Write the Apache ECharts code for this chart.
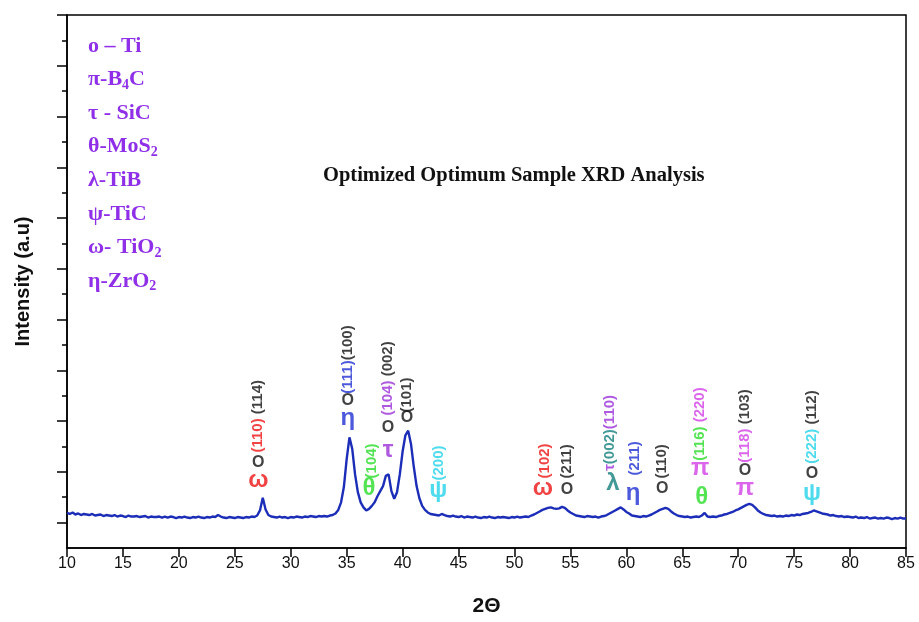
<!DOCTYPE html>
<html>
<head>
<meta charset="utf-8">
<script src="https://cdn.jsdelivr.net/npm/echarts@6/dist/echarts.min.js"></script>
<style>
  html, body { margin: 0; padding: 0; background: #fff; }
  #chart { width: 919px; height: 622px; }
</style>
</head>
<body>
<div id="chart"></div>
<script>
// 2θ sampling grid of the pattern
const thetaStart = 10
const thetaStep = 0.25

// intensity, one row per degree (x.00, x.25, x.50, x.75)
const intensity = [
  19, 17, 20, 16,
  18, 15, 17, 16,
  15, 17, 14, 15,
  16, 13, 15, 14,
  13, 15, 12, 14,
  13, 11, 14, 12,
  12, 13, 11, 12,
  13, 10, 12, 11,
  11, 12, 10, 12,
  10, 12, 11, 9,
  11, 10, 12, 10,
  9, 11, 10, 12,
  10, 9, 11, 10,
  12, 11, 15, 12,
  10, 9, 11, 10,
  9, 11, 10, 9,
  11, 10, 12, 11,
  14, 24, 49, 26,
  15, 12, 11, 10,
  12, 10, 11, 9,
  11, 10, 12, 11,
  10, 12, 11, 13,
  12, 11, 13, 12,
  13, 12, 14, 15,
  18, 25, 40, 70,
  125, 168, 145, 95,
  60, 40, 30, 24,
  27, 33, 40, 52,
  62, 72, 92, 95,
  62, 47, 60, 95,
  140, 172, 181, 155,
  110, 72, 48, 33,
  25, 20, 17, 16,
  15, 14, 17, 15,
  13, 12, 14, 12,
  11, 13, 10, 12,
  11, 10, 12, 10,
  9, 11, 10, 12,
  10, 9, 11, 10,
  11, 10, 9, 11,
  10, 12, 10, 11,
  12, 11, 14, 16,
  19, 22, 25, 27,
  29, 30, 28, 27,
  28, 31, 29, 24,
  20, 17, 14, 13,
  12, 11, 13, 12,
  11, 12, 10, 12,
  13, 15, 18, 21,
  24, 27, 30, 26,
  21, 18, 14, 13,
  12, 11, 13, 12,
  14, 16, 19, 22,
  25, 27, 29, 27,
  22, 18, 15, 13,
  12, 11, 12, 10,
  11, 12, 11, 14,
  19, 12, 11, 12,
  11, 13, 14, 16,
  17, 19, 21, 24,
  26, 29, 32, 35,
  37, 35, 30, 24,
  20, 17, 15, 14,
  13, 14, 12, 13,
  12, 14, 13, 15,
  14, 16, 15, 17,
  18, 19, 21, 24,
  22, 20, 18, 17,
  16, 14, 15, 13,
  12, 13, 11, 12,
  11, 10, 12, 9,
  10, 9, 11, 8,
  9, 10, 8, 9,
  8, 10, 9, 7,
  9, 8, 10, 8,
  8
]

const yMajor = [0, 100, 200, 300, 400, 500, 600, 700, 800, 900, 1000]
const yMinor = [50, 150, 250, 350, 450, 550, 650, 750, 850, 950]

// phase key list (legend)
const legendLines = [
  'o – Ti',
  'π-B{sub|4}C',
  'τ - SiC',
  'θ-MoS{sub|2}',
  'λ-TiB',
  'ψ-TiC',
  'ω- TiO{sub|2}',
  'η-ZrO{sub|2}'
]

// upright phase symbols over the peaks: [2θ, intensity, glyph, phase]
const peakGlyphs = [
  [27.1, 83, 'ω', 'tio2'], [27.1, 118, 'O', 'ti'],
  [35.1, 205, 'η', 'zro2'], [35.1, 240, 'O', 'ti'],
  [37.0, 67, 'θ', 'mos2'],
  [38.7, 142, 'τ', 'sic'], [38.7, 187, 'O', 'ti'],
  [40.4, 207, 'O', 'ti'],
  [43.2, 63, 'ψ', 'tic'],
  [52.55, 67, 'ω', 'tio2'],
  [54.7, 65, 'O', 'ti'],
  [58.8, 77, 'λ', 'tib'],
  [60.6, 57, 'η', 'zro2'],
  [63.2, 67, 'O', 'ti'],
  [66.75, 49, 'θ', 'mos2'], [66.6, 106, 'π', 'b4c'],
  [70.6, 67, 'π', 'b4c'], [70.6, 102, 'O', 'ti'],
  [76.6, 57, 'ψ', 'tic'], [76.6, 97, 'O', 'ti']
]

// vertical (hkl) labels, bottom anchored: [2θ, intensity, [[text, phase], ...]]
const peakPlanes = [
  [27.1, 138, [['(110)', 'tio2'], [' (114)', 'ti']]],
  [35.1, 254, [['(111)', 'zro2'], ['(100)', 'ti']]],
  [37.25, 87, [['(104)', 'mos2']]],
  [38.7, 211, [['(104)', 'sic'], [' (002)', 'ti']]],
  [40.4, 217, [['(101)', 'ti']]],
  [43.2, 83, [['(200)', 'tic']]],
  [52.75, 87, [['(102)', 'tio2']]],
  [54.7, 87, [['(211)', 'ti']]],
  [58.55, 102, [['τ', 'sic'], ['(002)', 'tib'], ['(110)', 'sic']]],
  [60.8, 93, [['(211)', 'zro2']]],
  [63.2, 87, [['(110)', 'ti']]],
  [66.6, 122, [['(116)', 'mos2'], [' (220)', 'b4c']]],
  [70.6, 118, [['(118)', 'b4c'], [' (103)', 'ti']]],
  [76.6, 116, [['(222)', 'tic'], [' (112)', 'ti']]]
]

const phaseColor = {
  ti: '#111111',
  b4c: '#d23ee6',
  sic: '#9a30d8',
  mos2: '#28dc28',
  tib: '#13807c',
  tic: '#20d2e8',
  tio2: '#ee1414',
  zro2: '#1f30d2'
}

const pattern = intensity.map((v, i) => [thetaStart + i * thetaStep, v])

const planeRich = {}
Object.keys(phaseColor).forEach(k => {
  planeRich[k] = {
    color: phaseColor[k],
    fontSize: 15,
    fontWeight: 'bold',
    fontFamily: 'Liberation Sans'
  }
})

const chart = echarts.init(document.getElementById('chart'))

const yAxisBase = {
  type: 'value',
  min: -50,
  max: 1000,
  splitLine: { show: false },
  axisLabel: { show: false }
}

chart.setOption({
  backgroundColor: '#fff',
  animation: false,
  textStyle: { fontFamily: 'Liberation Sans' },
  grid: {
    left: 67,
    right: 13,
    top: 15,
    bottom: 74,
    show: true,
    borderColor: '#000',
    borderWidth: 1.5
  },
  graphic: [
    {
      type: 'text',
      left: 323,
      top: 165,
      style: {
        text: 'Optimized Optimum Sample XRD Analysis',
        font: 'bold 20.5px "Liberation Serif"',
        fill: '#111'
      }
    },
    ...legendLines.map((t, i) => ({
      type: 'text',
      left: 88,
      top: 35 + i * 33.6,
      style: {
        text: t,
        font: 'bold 22px "Liberation Serif"',
        fill: '#8f2fe8',
        rich: {
          sub: {
            font: 'bold 14px "Liberation Serif"',
            fill: '#8f2fe8',
            padding: [11, 0, 0, 0]
          }
        }
      }
    }))
  ],
  xAxis: {
    type: 'value',
    min: 10,
    max: 85,
    interval: 5,
    name: '2Θ',
    nameLocation: 'middle',
    nameGap: 48,
    nameTextStyle: { fontSize: 21, fontWeight: 'bold', color: '#111' },
    axisLine: { onZero: false, lineStyle: { color: '#000', width: 1.5 } },
    axisTick: { inside: false, length: 9, lineStyle: { color: '#000', width: 1.5 } },
    axisLabel: { fontSize: 16, color: '#111', margin: 8 },
    splitLine: { show: false }
  },
  yAxis: [
    Object.assign({}, yAxisBase, {
      name: 'Intensity (a.u)',
      nameLocation: 'middle',
      nameGap: 34,
      nameTextStyle: { fontSize: 20, fontWeight: 'bold', color: '#111' },
      axisLine: { show: true, lineStyle: { color: '#000', width: 1.5 } },
      axisTick: { show: true, length: 10, customValues: yMajor, lineStyle: { color: '#000', width: 1.5 } }
    }),
    Object.assign({}, yAxisBase, {
      position: 'left',
      axisLine: { show: false },
      axisTick: { show: true, length: 5, customValues: yMinor, lineStyle: { color: '#000', width: 1.5 } }
    })
  ],
  series: [
    {
      type: 'line',
      data: pattern,
      showSymbol: false,
      lineStyle: { color: '#1c2db8', width: 2.4 },
      z: 3
    },
    {
      type: 'scatter',
      symbolSize: 1,
      itemStyle: { color: 'rgba(0,0,0,0)' },
      z: 4,
      data: peakGlyphs.map(g => ({
        value: [g[0], g[1]],
        label: {
          show: true,
          position: 'inside',
          formatter: g[2],
          color: phaseColor[g[3]],
          fontSize: g[2] === 'O' ? 16 : 24,
          fontWeight: 'bold',
          fontFamily: 'Liberation Sans'
        }
      }))
    },
    {
      type: 'scatter',
      symbolSize: 1,
      itemStyle: { color: 'rgba(0,0,0,0)' },
      z: 4,
      data: peakPlanes.map(p => ({
        value: [p[0], p[1]],
        label: {
          show: true,
          position: 'inside',
          rotate: 90,
          align: 'left',
          verticalAlign: 'middle',
          formatter: p[2].map(([t, ph]) => '{' + ph + '|' + t + '}').join(''),
          rich: planeRich
        }
      }))
    }
  ]
})
</script>
</body>
</html>
